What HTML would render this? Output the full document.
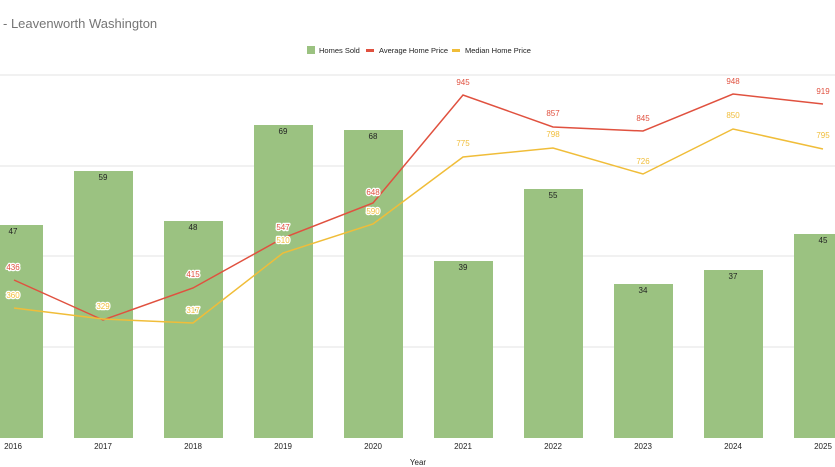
<!DOCTYPE html>
<html><head><style>
body{margin:0;background:#fff;}
svg{display:block;font-family:"Liberation Sans",Arial,sans-serif;}
.l{font-size:8px;text-anchor:middle;paint-order:stroke;stroke:#fff;stroke-width:2.5px;stroke-linejoin:round}
</style></head><body>
<svg width="835" height="467" viewBox="0 0 835 467">
<text x="3" y="28" font-size="13" fill="#757575">- Leavenworth Washington</text>
<rect x="307" y="46" width="8" height="8" fill="#9bc281"/>
<text x="319" y="53" font-size="7.5" fill="#222">Homes Sold</text>
<rect x="366" y="49" width="8" height="3" fill="#e0513f"/>
<text x="379" y="53" font-size="7.5" fill="#222">Average Home Price</text>
<rect x="452" y="49" width="8" height="3" fill="#f0bd39"/>
<text x="465" y="53" font-size="7.5" fill="#222">Median Home Price</text>
<g stroke="#e3e3e3" stroke-width="1">
<line x1="0" y1="75" x2="835" y2="75"/><line x1="0" y1="166" x2="835" y2="166"/>
<line x1="0" y1="256" x2="835" y2="256"/><line x1="0" y1="347" x2="835" y2="347"/>
</g>
<g fill="#9bc281">
<rect x="-16" y="225" width="59" height="213"/>
<rect x="74" y="171" width="59" height="267"/>
<rect x="164" y="221" width="59" height="217"/>
<rect x="254" y="125" width="59" height="313"/>
<rect x="344" y="130" width="59" height="308"/>
<rect x="434" y="261" width="59" height="177"/>
<rect x="524" y="189" width="59" height="249"/>
<rect x="614" y="284" width="59" height="154"/>
<rect x="704" y="270" width="59" height="168"/>
<rect x="794" y="234" width="59" height="204"/>
</g>
<g font-size="8" text-anchor="middle" fill="#222">
<text x="13" y="234">47</text><text x="103" y="180">59</text><text x="193" y="230">48</text>
<text x="283" y="134">69</text><text x="373" y="139">68</text><text x="463" y="270">39</text>
<text x="553" y="198">55</text><text x="643" y="293">34</text><text x="733" y="279">37</text>
<text x="823" y="243">45</text>
</g>
<polyline fill="none" stroke="#e0513f" stroke-width="1.5" points="14,280 103,320 193,288 283,238 373,203 463,95 553,127 643,131 733,94 823,104"/>
<polyline fill="none" stroke="#f0bd39" stroke-width="1.5" points="14,308 103,319 193,323 283,253 373,224 463,157 553,148 643,174 733,129 823,149"/>
<g fill="#e0513f" class="l">
<text x="13" y="270">436</text><text x="193" y="277">415</text><text x="283" y="230">547</text>
<text x="373" y="195">648</text><text x="463" y="85">945</text><text x="553" y="116">857</text>
<text x="643" y="121">845</text><text x="733" y="84">948</text><text x="823" y="94">919</text>
</g>
<g fill="#f0bd39" class="l">
<text x="13" y="298">360</text><text x="103" y="309">329</text><text x="193" y="313">317</text>
<text x="283" y="243">510</text><text x="373" y="214">590</text><text x="463" y="146">775</text>
<text x="553" y="137">798</text><text x="643" y="164">726</text><text x="733" y="118">850</text>
<text x="823" y="138">795</text>
</g>
<g font-size="8" text-anchor="middle" fill="#222">
<text x="13" y="449">2016</text><text x="103" y="449">2017</text><text x="193" y="449">2018</text>
<text x="283" y="449">2019</text><text x="373" y="449">2020</text><text x="463" y="449">2021</text>
<text x="553" y="449">2022</text><text x="643" y="449">2023</text><text x="733" y="449">2024</text>
<text x="823" y="449">2025</text>
<text x="418" y="465">Year</text>
</g>
</svg>
</body></html>
